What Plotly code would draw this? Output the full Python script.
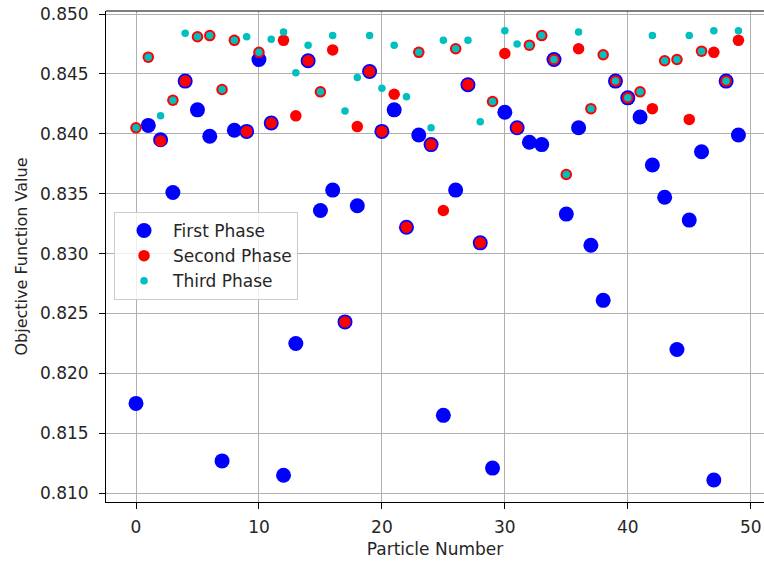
import plotly.graph_objects as go

particles = list(range(50))

first_phase = [
    0.8175, 0.8407, 0.8395, 0.8351, 0.8444, 0.8420, 0.8398, 0.8127, 0.8403, 0.8402,
    0.8462, 0.8409, 0.8115, 0.8225, 0.8461, 0.8336, 0.8353, 0.8243, 0.8340, 0.8452,
    0.8402, 0.8420, 0.8322, 0.8399, 0.8391, 0.8165, 0.8353, 0.8441, 0.8309, 0.8121,
    0.8418, 0.8405, 0.8393, 0.8391, 0.8462, 0.8333, 0.8405, 0.8307, 0.8261, 0.8444,
    0.8430, 0.8414, 0.8374, 0.8347, 0.8220, 0.8328, 0.8385, 0.8111, 0.8444, 0.8399,
]

second_phase = [
    0.8405, 0.8464, 0.8394, 0.8428, 0.8444, 0.8481, 0.8482, 0.8437, 0.8478, 0.8402,
    0.8468, 0.8409, 0.8478, 0.8415, 0.8461, 0.8435, 0.8470, 0.8243, 0.8406, 0.8452,
    0.8402, 0.8433, 0.8322, 0.8468, 0.8391, 0.8336, 0.8471, 0.8441, 0.8309, 0.8427,
    0.8467, 0.8405, 0.8474, 0.8482, 0.8462, 0.8366, 0.8471, 0.8421, 0.8466, 0.8444,
    0.8430, 0.8435, 0.8421, 0.8461, 0.8462, 0.8412, 0.8469, 0.8468, 0.8444, 0.8478,
]

third_phase = [
    0.8405, 0.8464, 0.8415, 0.8428, 0.8484, 0.8481, 0.8482, 0.8437, 0.8478, 0.8481,
    0.8468, 0.8479, 0.8485, 0.8451, 0.8474, 0.8435, 0.8482, 0.8419, 0.8447, 0.8482,
    0.8438, 0.8474, 0.8431, 0.8468, 0.8405, 0.8478, 0.8471, 0.8478, 0.8410, 0.8427,
    0.8486, 0.8475, 0.8474, 0.8482, 0.8462, 0.8366, 0.8485, 0.8421, 0.8466, 0.8444,
    0.8430, 0.8435, 0.8482, 0.8461, 0.8462, 0.8482, 0.8469, 0.8486, 0.8444, 0.8486,
]

x_ticks = [0, 10, 20, 30, 40, 50]
y_ticks = [0.810, 0.815, 0.820, 0.825, 0.830, 0.835, 0.840, 0.845, 0.850]

FONT = "DejaVu Sans"
TXT = "#262626"

fig = go.Figure()
fig.add_trace(go.Scatter(
    x=particles, y=first_phase, mode="markers", name="First Phase",
    marker=dict(color="#0000ff", size=15, line=dict(width=0)),
))
fig.add_trace(go.Scatter(
    x=particles, y=second_phase, mode="markers", name="Second Phase",
    marker=dict(color="#ff0000", size=11.5, line=dict(width=0)),
))
fig.add_trace(go.Scatter(
    x=particles, y=third_phase, mode="markers", name="Third Phase",
    marker=dict(color="#00bfbf", size=7.5, line=dict(width=0)),
))

fig.update_layout(
    width=764, height=563,
    margin=dict(l=106, r=0, t=11, b=61, pad=0),
    paper_bgcolor="white", plot_bgcolor="white",
    font=dict(family=FONT, size=17, color=TXT),
    showlegend=True,
    legend=dict(
        x=0.0122, y=0.5906, xanchor="left", yanchor="top",
        bgcolor="rgba(255,255,255,0.8)", bordercolor="#cccccc", borderwidth=1,
        font=dict(family=FONT, size=17, color=TXT),
        itemwidth=48, tracegroupgap=0,
    ),
    xaxis=dict(
        range=[-2.44, 51.08], tickmode="array", tickvals=x_ticks,
        ticktext=[str(v) for v in x_ticks],
        showgrid=True, gridcolor="#b0b0b0", gridwidth=1,
        zeroline=False, showline=True, linecolor="black", linewidth=1,
        ticks="outside", ticklen=6, tickcolor="black", tickwidth=1,
        ticklabelstandoff=4,
        title=dict(text="Particle Number", font=dict(family=FONT, size=17, color=TXT), standoff=6),
        automargin=False,
    ),
    yaxis=dict(
        range=[0.80927, 0.85025], tickmode="array", tickvals=y_ticks,
        ticktext=[f"{v:.3f}" for v in y_ticks],
        showgrid=True, gridcolor="#b0b0b0", gridwidth=1,
        zeroline=False, showline=True, linecolor="black", linewidth=1,
        ticks="outside", ticklen=6, tickcolor="black", tickwidth=1,
        ticklabelstandoff=7,
        title=dict(text="Objective Function Value", font=dict(family=FONT, size=16, color=TXT), standoff=8),
        automargin=False,
    ),
    shapes=[dict(type="line", xref="paper", yref="paper", x0=0, x1=1, y0=1, y1=1,
                 line=dict(color="black", width=1))],
)

fig.write_html("out.html")
